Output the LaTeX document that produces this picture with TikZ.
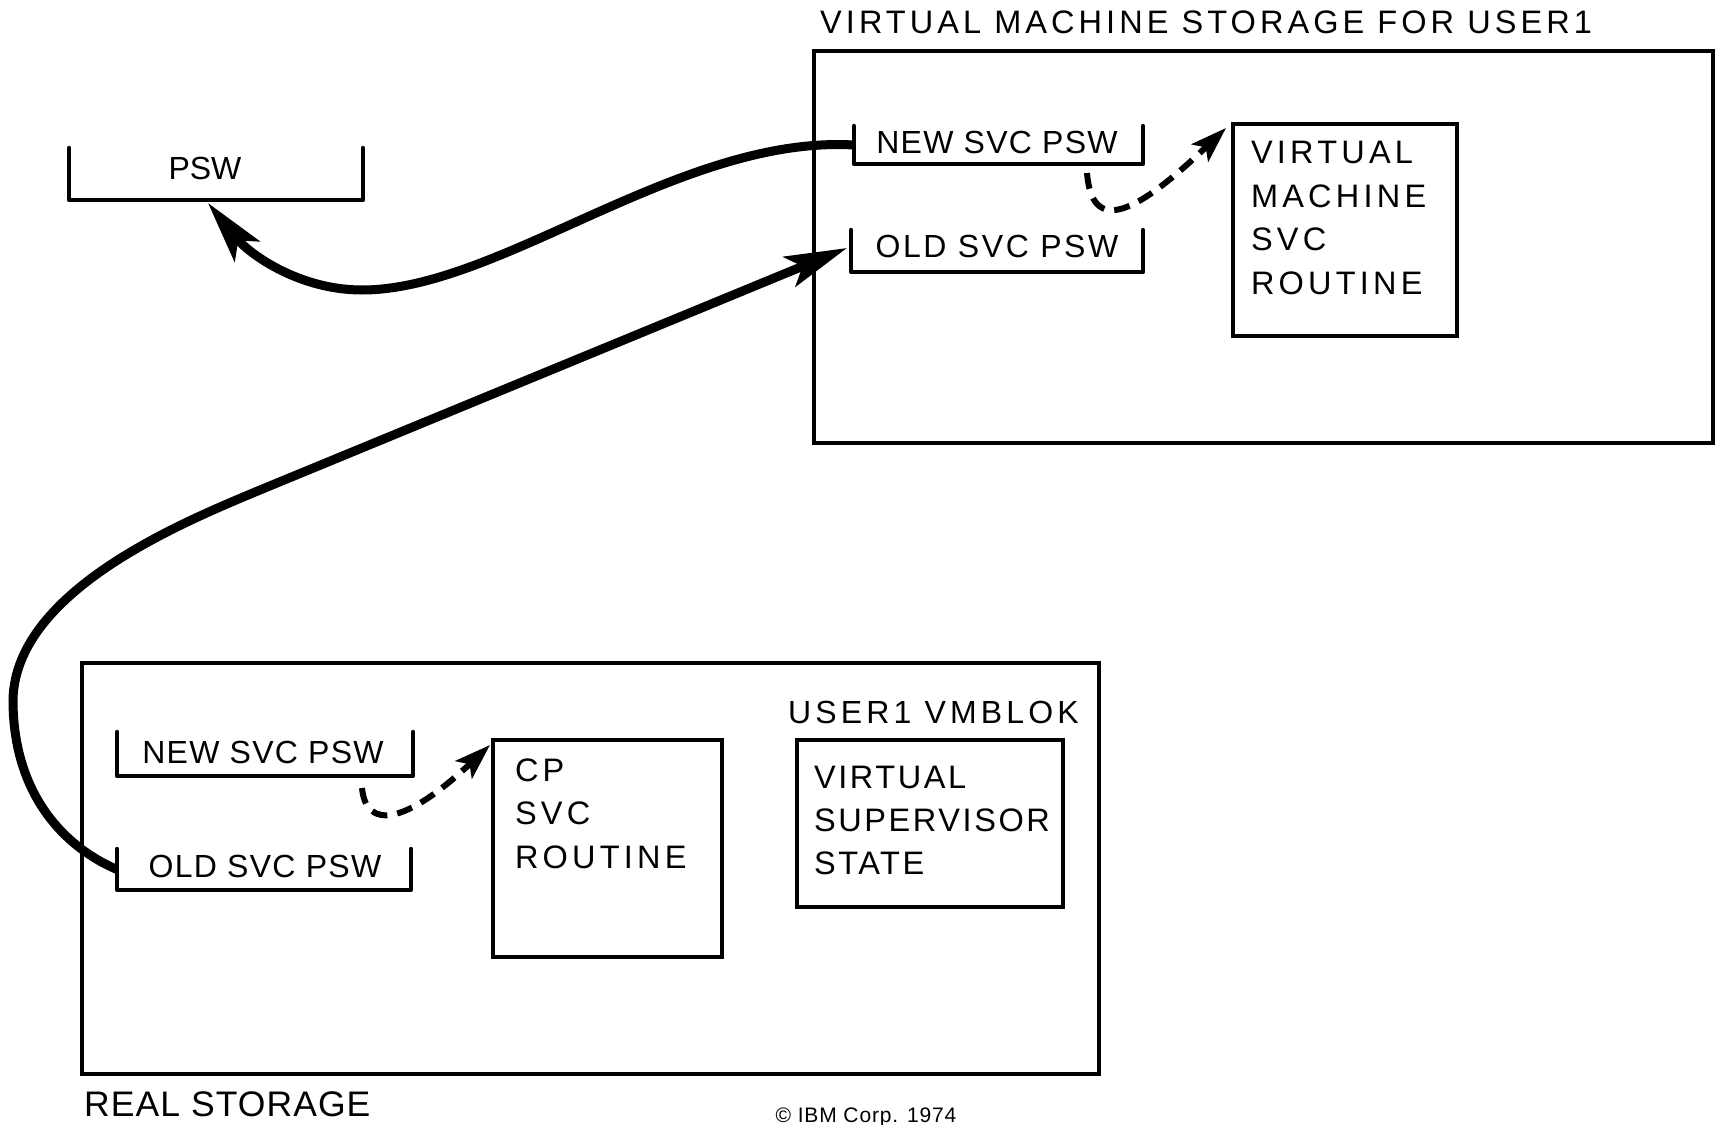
\documentclass[tikz,border=0pt]{standalone}
\usepackage{fontspec}
\setmainfont{Liberation Sans}
\newfontfamily\fwide{Liberation Sans}[LetterSpace=13]
\newfontfamily\ftitle{Liberation Sans}[LetterSpace=12.5]
\newfontfamily\fmid{Liberation Sans}[LetterSpace=8]
\newfontfamily\ftight{Liberation Sans}[LetterSpace=4]
\newfontfamily\freal{Liberation Sans}[LetterSpace=3]
\usetikzlibrary{arrows.meta}
\newcommand\drawbracket[1]{\draw[bline] (#1.north west) -- (#1.south west) -- (#1.south east) -- (#1.north east);}
\begin{document}
\begin{tikzpicture}[x=1pt,y=-1pt,
  frame/.style={draw, line width=4.5pt, inner sep=0pt, outer sep=0pt},
  brk/.style={inner sep=0pt, outer sep=0pt},
  bline/.style={line width=4.5pt, line cap=round, line join=round},
  lbl/.style={inner sep=0pt, outer sep=0pt, font=\ftight\fontsize{32}{43}\selectfont},
  multi/.style={inner sep=0pt, outer sep=0pt, align=left, anchor=north west, font=\fwide\fontsize{32.5}{43.5}\selectfont},
  thickarrow/.style={line width=9pt, -{Stealth[length=62pt,width=32pt,inset=14pt]}},
  dasharrow/.style={line width=6pt, dash pattern=on 16pt off 10pt, -{Stealth[length=36pt,width=24pt,inset=8pt]}}
]
\useasboundingbox (0,0) rectangle (1718,1124);
\fill[white] (0,0) rectangle (1718,1124);

% upper storage
\node[anchor=west, inner sep=0pt, font=\ftitle\fontsize{32.5}{38}\selectfont] (title) at (820,22) {VIRTUAL MACHINE STORAGE FOR USER1};
\node[frame, minimum width=899pt, minimum height=392pt] (vmstore) at (1263.5,247) {};
\node[brk, minimum width=289pt, minimum height=38pt] (unew) at (998.5,145) {};
\drawbracket{unew}
\node[lbl] (unewt) at (997,142.5) {NEW SVC PSW};
\node[brk, minimum width=292pt, minimum height=42pt] (uold) at (997,251) {};
\drawbracket{uold}
\node[lbl, font=\fmid\fontsize{32}{43}\selectfont] (uoldt) at (997,246) {OLD SVC PSW};
\node[frame, minimum width=224pt, minimum height=212pt] (vmsvc) at (1345,230) {};
\node[multi] (vmsvct) at (1251,141.5) {VIRTUAL\\MACHINE\\SVC\\ROUTINE};

% PSW
\node[brk, minimum width=294pt, minimum height=52pt] (pswb) at (216,174) {};
\drawbracket{pswb}
\node[inner sep=0pt, font=\fontsize{32}{36}\selectfont] (pswt) at (205,168) {PSW};

% real storage
\node[frame, minimum width=1017pt, minimum height=411pt] (real) at (590.5,868.5) {};
\node[anchor=west, inner sep=0pt, font=\freal\fontsize{35.5}{40}\selectfont] (realt) at (84,1104) {REAL STORAGE};
\node[brk, minimum width=296pt, minimum height=44pt] (rnew) at (265,754) {};
\drawbracket{rnew}
\node[lbl] (rnewt) at (263,752) {NEW SVC PSW};
\node[brk, minimum width=294pt, minimum height=41pt] (rold) at (264,869.5) {};
\drawbracket{rold}
\node[lbl] (roldt) at (265,866) {OLD SVC PSW};
\node[frame, minimum width=229pt, minimum height=217pt] (cpsvc) at (607.5,848.5) {};
\node[multi] (cpsvct) at (515,758.5) {CP\\SVC\\ROUTINE};
\node[inner sep=0pt, font=\fwide\fontsize{32}{38}\selectfont] (vmblokt) at (933.5,712) {USER1 VMBLOK};
\node[frame, minimum width=266pt, minimum height=167pt] (vmblok) at (930,823.5) {};
\node[multi, font=\fmid\fontsize{32.5}{42.7}\selectfont] (vmblokin) at (814,766.5) {VIRTUAL\\SUPERVISOR\\STATE};

\node[anchor=base, inner sep=0pt, font=\ftight\fontsize{21}{24}\selectfont] (copy) at (866,1122) {© IBM Corp. 1974};

% connectors
\draw[thickarrow] (unew.west) .. controls (680,135) and (500,290) .. (362,290)
   .. controls (300,290) and (250,255) .. ([xshift=-8pt,yshift=-3pt]pswb.south);
\draw[thickarrow] (rold.west) .. controls (60,845) and (13,790) .. (13,700)
   .. controls (15,590) and (186,521) .. (260,490) -- ([xshift=-4pt,yshift=3pt]uold.west);
\draw[dasharrow] ([xshift=-56pt,yshift=-9pt]unew.south east) .. controls (1092,235) and (1135,215) .. ([xshift=-7pt,yshift=-4pt]vmsvc.north west);
\draw[dasharrow] ([xshift=-51pt,yshift=-12pt]rnew.south east) .. controls (366,830) and (405,825) .. ([xshift=-3pt,yshift=-5pt]cpsvc.north west);
\end{tikzpicture}
\end{document}
